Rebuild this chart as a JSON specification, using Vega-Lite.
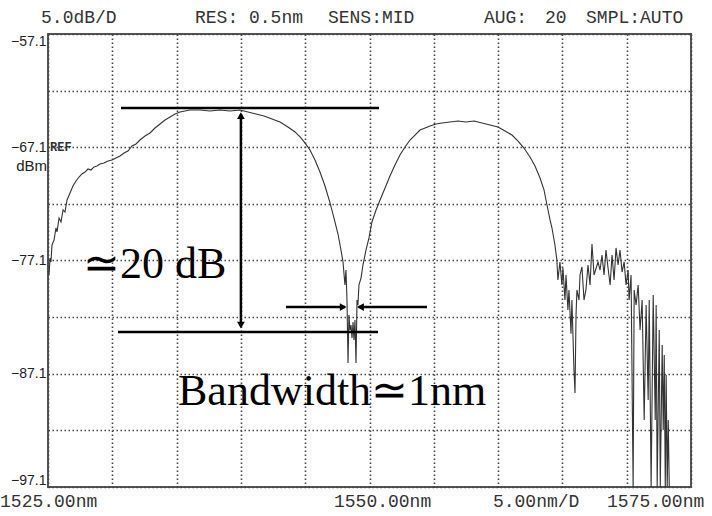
{
  "$schema": "https://vega.github.io/schema/vega-lite/v6.json",
  "width": 643,
  "height": 453,
  "autosize": {"type": "none"},
  "padding": {"left": 48, "top": 34, "right": 21, "bottom": 29},
  "background": "white",
  "config": {"view": {"stroke": "#555", "strokeWidth": 2}},
  "datasets": {
    "trace": [
      {"nm": 1525.08, "dBm": -78.38}, {"nm": 1525.16, "dBm": -76.88}, {"nm": 1525.23, "dBm": -77.23}, {"nm": 1525.31, "dBm": -75.73},
      {"nm": 1525.47, "dBm": -75.29}, {"nm": 1525.62, "dBm": -74.23}, {"nm": 1525.70, "dBm": -74.58}, {"nm": 1525.86, "dBm": -73.35},
      {"nm": 1526.01, "dBm": -73.70}, {"nm": 1526.17, "dBm": -72.64}, {"nm": 1526.32, "dBm": -72.82}, {"nm": 1526.48, "dBm": -71.76},
      {"nm": 1526.71, "dBm": -71.14}, {"nm": 1526.94, "dBm": -70.52}, {"nm": 1527.18, "dBm": -70.08}, {"nm": 1527.41, "dBm": -69.73},
      {"nm": 1527.64, "dBm": -69.46}, {"nm": 1527.88, "dBm": -69.29}, {"nm": 1528.11, "dBm": -69.02}, {"nm": 1528.34, "dBm": -69.11},
      {"nm": 1528.58, "dBm": -68.84}, {"nm": 1528.81, "dBm": -68.76}, {"nm": 1529.04, "dBm": -68.58}, {"nm": 1529.35, "dBm": -68.49},
      {"nm": 1529.67, "dBm": -68.31}, {"nm": 1529.98, "dBm": -68.23}, {"nm": 1530.29, "dBm": -68.05}, {"nm": 1530.60, "dBm": -67.87},
      {"nm": 1530.91, "dBm": -67.61}, {"nm": 1531.22, "dBm": -67.43}, {"nm": 1531.53, "dBm": -66.99}, {"nm": 1531.84, "dBm": -66.81},
      {"nm": 1532.15, "dBm": -66.46}, {"nm": 1532.54, "dBm": -66.11}, {"nm": 1532.93, "dBm": -65.84}, {"nm": 1533.32, "dBm": -65.40},
      {"nm": 1533.71, "dBm": -65.05}, {"nm": 1534.10, "dBm": -64.69}, {"nm": 1534.49, "dBm": -64.43}, {"nm": 1534.88, "dBm": -64.16},
      {"nm": 1535.26, "dBm": -63.99}, {"nm": 1535.65, "dBm": -63.90}, {"nm": 1536.04, "dBm": -63.81}, {"nm": 1536.82, "dBm": -63.81},
      {"nm": 1537.60, "dBm": -63.90}, {"nm": 1538.37, "dBm": -63.81}, {"nm": 1539.15, "dBm": -63.90}, {"nm": 1539.93, "dBm": -63.81},
      {"nm": 1540.55, "dBm": -63.99}, {"nm": 1541.17, "dBm": -64.16}, {"nm": 1541.80, "dBm": -64.34}, {"nm": 1542.42, "dBm": -64.61},
      {"nm": 1543.04, "dBm": -64.87}, {"nm": 1543.66, "dBm": -65.31}, {"nm": 1544.21, "dBm": -65.75}, {"nm": 1544.60, "dBm": -66.19},
      {"nm": 1544.98, "dBm": -66.72}, {"nm": 1545.37, "dBm": -67.34}, {"nm": 1545.76, "dBm": -68.23}, {"nm": 1546.15, "dBm": -69.29},
      {"nm": 1546.54, "dBm": -70.52}, {"nm": 1546.93, "dBm": -72.02}, {"nm": 1547.24, "dBm": -73.35}, {"nm": 1547.55, "dBm": -74.76},
      {"nm": 1547.78, "dBm": -76.17}, {"nm": 1547.94, "dBm": -77.23}, {"nm": 1548.09, "dBm": -79.26}, {"nm": 1548.17, "dBm": -77.94},
      {"nm": 1548.25, "dBm": -80.59}, {"nm": 1548.33, "dBm": -86.15}, {"nm": 1548.40, "dBm": -81.91}, {"nm": 1548.48, "dBm": -83.24},
      {"nm": 1548.56, "dBm": -82.80}, {"nm": 1548.64, "dBm": -83.94}, {"nm": 1548.72, "dBm": -82.53}, {"nm": 1548.79, "dBm": -84.12},
      {"nm": 1548.87, "dBm": -82.36}, {"nm": 1548.95, "dBm": -86.15}, {"nm": 1549.03, "dBm": -80.59}, {"nm": 1549.10, "dBm": -81.03},
      {"nm": 1549.18, "dBm": -79.26}, {"nm": 1549.34, "dBm": -78.65}, {"nm": 1549.49, "dBm": -77.50}, {"nm": 1549.73, "dBm": -76.17},
      {"nm": 1549.96, "dBm": -75.11}, {"nm": 1550.19, "dBm": -73.70}, {"nm": 1550.51, "dBm": -72.64}, {"nm": 1550.82, "dBm": -71.76},
      {"nm": 1551.21, "dBm": -70.70}, {"nm": 1551.59, "dBm": -69.64}, {"nm": 1551.98, "dBm": -68.67}, {"nm": 1552.37, "dBm": -67.78},
      {"nm": 1552.76, "dBm": -67.08}, {"nm": 1553.15, "dBm": -66.46}, {"nm": 1553.54, "dBm": -66.02}, {"nm": 1553.93, "dBm": -65.58},
      {"nm": 1554.32, "dBm": -65.40}, {"nm": 1554.71, "dBm": -65.22}, {"nm": 1555.17, "dBm": -65.05}, {"nm": 1555.64, "dBm": -64.96},
      {"nm": 1556.26, "dBm": -64.87}, {"nm": 1556.88, "dBm": -64.78}, {"nm": 1557.50, "dBm": -64.87}, {"nm": 1558.13, "dBm": -64.78},
      {"nm": 1558.75, "dBm": -64.96}, {"nm": 1559.37, "dBm": -65.14}, {"nm": 1559.99, "dBm": -65.31}, {"nm": 1560.54, "dBm": -65.67},
      {"nm": 1561.08, "dBm": -66.02}, {"nm": 1561.55, "dBm": -66.55}, {"nm": 1562.01, "dBm": -67.17}, {"nm": 1562.48, "dBm": -67.96},
      {"nm": 1562.87, "dBm": -68.76}, {"nm": 1563.26, "dBm": -69.82}, {"nm": 1563.57, "dBm": -70.87}, {"nm": 1563.80, "dBm": -72.20},
      {"nm": 1564.04, "dBm": -73.52}, {"nm": 1564.19, "dBm": -74.23}, {"nm": 1564.42, "dBm": -75.73}, {"nm": 1564.57, "dBm": -77.06},
      {"nm": 1564.65, "dBm": -78.82}, {"nm": 1564.81, "dBm": -77.23}, {"nm": 1564.96, "dBm": -79.26}, {"nm": 1565.04, "dBm": -77.76},
      {"nm": 1565.20, "dBm": -80.59}, {"nm": 1565.28, "dBm": -78.38}, {"nm": 1565.43, "dBm": -81.47}, {"nm": 1565.51, "dBm": -79.70},
      {"nm": 1565.67, "dBm": -83.56}, {"nm": 1565.74, "dBm": -80.59}, {"nm": 1565.90, "dBm": -86.77}, {"nm": 1565.98, "dBm": -88.80},
      {"nm": 1566.06, "dBm": -81.91}, {"nm": 1566.13, "dBm": -79.70}, {"nm": 1566.29, "dBm": -80.59}, {"nm": 1566.37, "dBm": -78.38},
      {"nm": 1566.52, "dBm": -77.67}, {"nm": 1566.68, "dBm": -80.59}, {"nm": 1566.83, "dBm": -79.70}, {"nm": 1566.99, "dBm": -77.50},
      {"nm": 1567.15, "dBm": -79.26}, {"nm": 1567.30, "dBm": -75.64}, {"nm": 1567.46, "dBm": -78.38}, {"nm": 1567.77, "dBm": -77.23},
      {"nm": 1567.93, "dBm": -77.94}, {"nm": 1568.08, "dBm": -76.61}, {"nm": 1568.24, "dBm": -78.38}, {"nm": 1568.39, "dBm": -76.17},
      {"nm": 1568.55, "dBm": -77.76}, {"nm": 1568.71, "dBm": -79.26}, {"nm": 1568.86, "dBm": -76.61}, {"nm": 1569.02, "dBm": -78.82},
      {"nm": 1569.17, "dBm": -75.99}, {"nm": 1569.33, "dBm": -77.50}, {"nm": 1569.48, "dBm": -76.17}, {"nm": 1569.64, "dBm": -78.12},
      {"nm": 1569.80, "dBm": -77.23}, {"nm": 1569.95, "dBm": -79.26}, {"nm": 1570.11, "dBm": -77.94}, {"nm": 1570.19, "dBm": -80.59},
      {"nm": 1570.34, "dBm": -78.38}, {"nm": 1570.50, "dBm": -97.10}, {"nm": 1570.58, "dBm": -79.70}, {"nm": 1570.73, "dBm": -81.03},
      {"nm": 1570.89, "dBm": -79.26}, {"nm": 1571.04, "dBm": -83.24}, {"nm": 1571.20, "dBm": -80.59}, {"nm": 1571.36, "dBm": -91.18},
      {"nm": 1571.51, "dBm": -81.03}, {"nm": 1571.67, "dBm": -89.42}, {"nm": 1571.75, "dBm": -80.59}, {"nm": 1571.90, "dBm": -97.10},
      {"nm": 1572.06, "dBm": -80.15}, {"nm": 1572.22, "dBm": -91.18}, {"nm": 1572.29, "dBm": -81.03}, {"nm": 1572.37, "dBm": -97.10},
      {"nm": 1572.53, "dBm": -83.24}, {"nm": 1572.61, "dBm": -97.10}, {"nm": 1572.76, "dBm": -84.56}, {"nm": 1572.84, "dBm": -92.07},
      {"nm": 1572.92, "dBm": -85.45}, {"nm": 1573.00, "dBm": -97.10}, {"nm": 1573.07, "dBm": -87.21}, {"nm": 1573.15, "dBm": -97.10},
      {"nm": 1573.23, "dBm": -91.18}, {"nm": 1573.31, "dBm": -97.10}
    ],
    "hlines": [
      {"x1": 1530.68, "x2": 1550.74, "y": -63.63},
      {"x1": 1530.44, "x2": 1550.66, "y": -83.41},
      {"x1": 1543.51, "x2": 1548.10, "y": -81.21},
      {"x1": 1549.15, "x2": 1554.47, "y": -81.21}
    ],
    "vlines": [
      {"x": 1540.0, "y1": -64.2, "y2": -82.9}
    ],
    "heads": [
      {"x": 1540.0, "y": -64.3, "shape": "triangle-up"},
      {"x": 1540.0, "y": -82.8, "shape": "triangle-down"},
      {"x": 1547.95, "y": -81.21, "shape": "triangle-right"},
      {"x": 1549.3, "y": -81.21, "shape": "triangle-left"}
    ],
    "mono": [
      {"x": 1524.46, "y": -55.69, "t": "5.0dB/D"},
      {"x": 1536.43, "y": -55.69, "t": "RES: 0.5nm"},
      {"x": 1546.77, "y": -55.69, "t": "SENS:MID"},
      {"x": 1558.90, "y": -55.69, "t": "AUG:"},
      {"x": 1563.65, "y": -55.69, "t": "20"},
      {"x": 1566.84, "y": -55.69, "t": "SMPL:AUTO"},
      {"x": 1521.27, "y": -98.42, "t": "1525.00nm"},
      {"x": 1547.24, "y": -98.42, "t": "1550.00nm"},
      {"x": 1559.60, "y": -98.42, "t": "5.00nm/D"},
      {"x": 1568.47, "y": -98.42, "t": "1575.00nm"}
    ],
    "big": [
      {"x": 1527.72, "y": -78.65, "t": "≃20 dB"},
      {"x": 1535.11, "y": -89.86, "t": "Bandwidth≃1nm"}
    ],
    "small": [
      {"x": 1525.16, "y": -67.1, "t": "REF"}
    ],
    "unit": [
      {"x": 1524.92, "y": -68.76, "t": "dBm"}
    ]
  },
  "layer": [
    {
      "data": {"name": "trace"},
      "mark": {"type": "line", "color": "#333", "strokeWidth": 1.1, "interpolate": "linear"},
      "encoding": {
        "x": {"field": "nm", "type": "quantitative",
          "scale": {"domain": [1525, 1575], "nice": false, "zero": false},
          "axis": {"title": null, "values": [1525, 1530, 1535, 1540, 1545, 1550, 1555, 1560, 1565, 1570, 1575],
            "labels": false, "ticks": false, "domain": false, "grid": true,
            "gridColor": "#444", "gridDash": [1.5, 2.5], "gridWidth": 1.6}},
        "y": {"field": "dBm", "type": "quantitative",
          "scale": {"domain": [-97.1, -57.1], "nice": false, "zero": false},
          "axis": {"title": null, "values": [-57.1, -62.1, -67.1, -72.1, -77.1, -82.1, -87.1, -92.1, -97.1],
            "labelExpr": "abs(round(datum.value*10)+571) % 100 == 0 ? format(datum.value, '.1f') : ''",
            "labelFont": "Liberation Sans", "labelFontSize": 14, "labelColor": "#222",
            "labelPadding": 2, "labelFlush": true, "ticks": false, "domain": false, "grid": true,
            "gridColor": "#444", "gridDash": [1.5, 2.5], "gridWidth": 1.6}}
      }
    },
    {
      "data": {"name": "hlines"},
      "mark": {"type": "rule", "color": "#000", "strokeWidth": 2.5},
      "encoding": {
        "x": {"field": "x1", "type": "quantitative"},
        "x2": {"field": "x2"},
        "y": {"field": "y", "type": "quantitative"}
      }
    },
    {
      "data": {"name": "vlines"},
      "mark": {"type": "rule", "color": "#000", "strokeWidth": 2.5},
      "encoding": {
        "x": {"field": "x", "type": "quantitative"},
        "y": {"field": "y1", "type": "quantitative"},
        "y2": {"field": "y2"}
      }
    },
    {
      "data": {"name": "heads"},
      "mark": {"type": "point", "filled": true, "color": "#000", "size": 60, "opacity": 1},
      "encoding": {
        "x": {"field": "x", "type": "quantitative"},
        "y": {"field": "y", "type": "quantitative"},
        "shape": {"field": "shape", "type": "nominal", "scale": null}
      }
    },
    {
      "data": {"name": "mono"},
      "mark": {"type": "text", "font": "Liberation Mono", "fontSize": 18, "color": "#333", "align": "left", "baseline": "middle"},
      "encoding": {
        "x": {"field": "x", "type": "quantitative"},
        "y": {"field": "y", "type": "quantitative"},
        "text": {"field": "t"}
      }
    },
    {
      "data": {"name": "big"},
      "mark": {"type": "text", "font": "Liberation Serif", "fontSize": 44, "color": "#000", "align": "left", "baseline": "alphabetic"},
      "encoding": {
        "x": {"field": "x", "type": "quantitative"},
        "y": {"field": "y", "type": "quantitative"},
        "text": {"field": "t"}
      }
    },
    {
      "data": {"name": "small"},
      "mark": {"type": "text", "font": "Liberation Mono", "fontSize": 12, "fontWeight": "bold", "color": "#333", "align": "left", "baseline": "middle"},
      "encoding": {
        "x": {"field": "x", "type": "quantitative"},
        "y": {"field": "y", "type": "quantitative"},
        "text": {"field": "t"}
      }
    },
    {
      "data": {"name": "unit"},
      "mark": {"type": "text", "font": "Liberation Sans", "fontSize": 15, "color": "#222", "align": "right", "baseline": "middle"},
      "encoding": {
        "x": {"field": "x", "type": "quantitative"},
        "y": {"field": "y", "type": "quantitative"},
        "text": {"field": "t"}
      }
    }
  ]
}
